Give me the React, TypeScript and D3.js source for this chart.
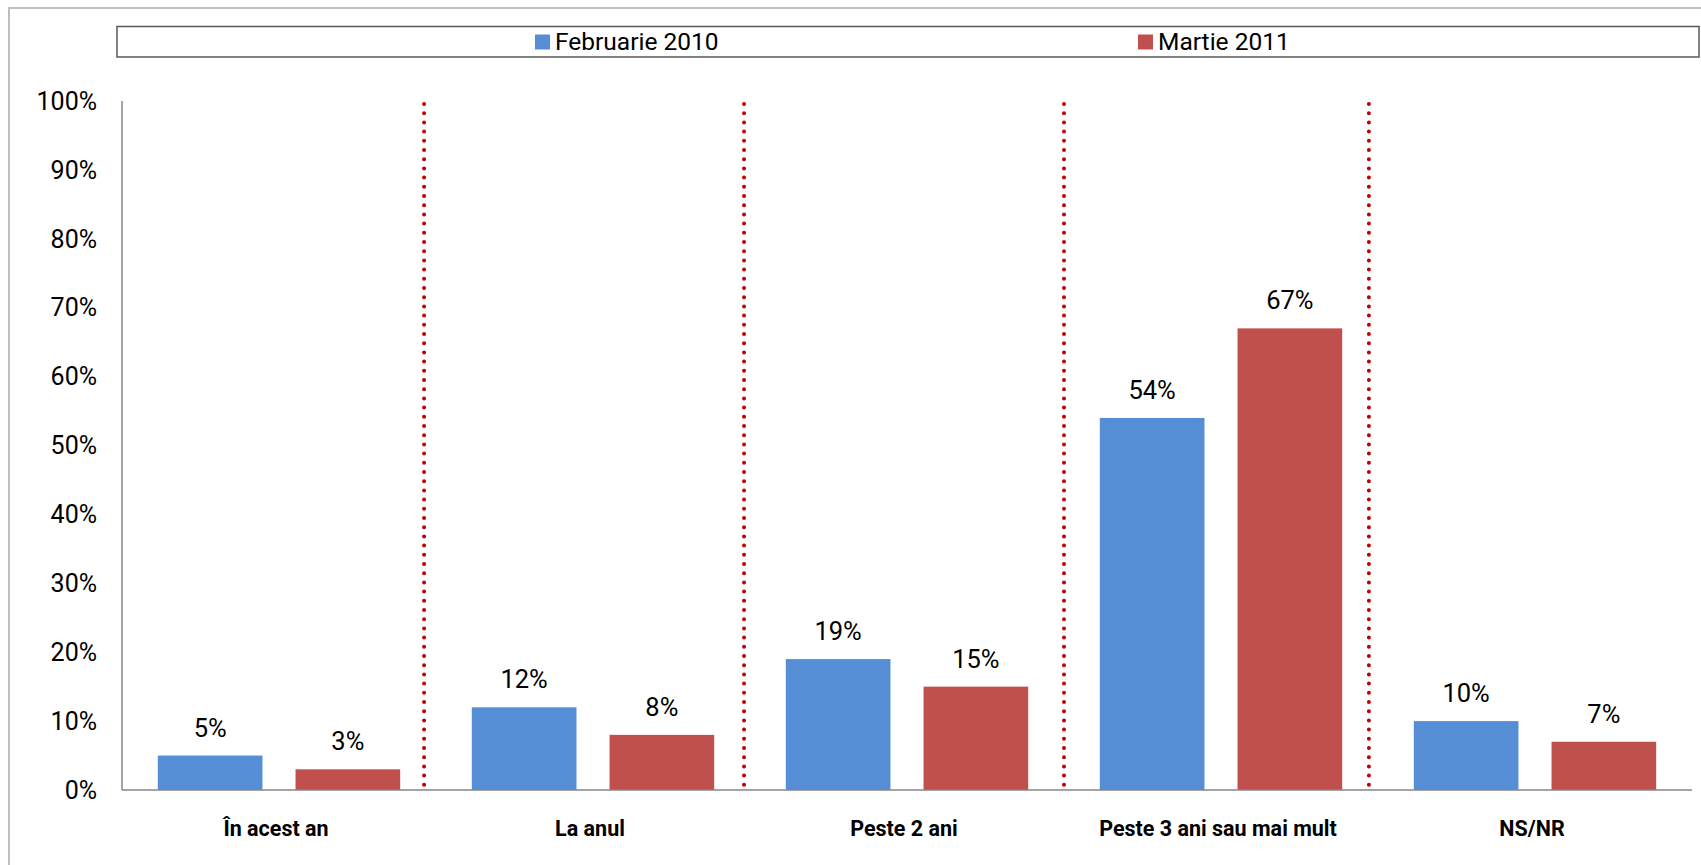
import React, { useRef, useEffect } from "react";
import * as d3 from "d3";

const categories = ["În acest an", "La anul", "Peste 2 ani", "Peste 3 ani sau mai mult", "NS/NR"];
const seriesNames = ["Februarie 2010", "Martie 2011"];
const feb2010 = [5, 12, 19, 54, 10];
const mar2011 = [3, 8, 15, 67, 7];
const yTicks = [0, 10, 20, 30, 40, 50, 60, 70, 80, 90, 100];
// red dotted separators, in category units
const dividers = [0.962, 1.981, 3.0, 3.971];

const colors = ["#558ED5", "#C0504D"];

const App = () => {
  const svgRef = useRef<SVGSVGElement>(null);

  const W = 1701,
    H = 865;
  const plot = { left: 122, right: 1692, top: 101, bottom: 790 };

  useEffect(() => {
    const svg = d3.select(svgRef.current);
    svg.selectAll("*").remove();

    const font = "Roboto, 'Open Sans', sans-serif";

    // outer chart frame (runs off the page on the right/bottom)
    svg
      .append("rect")
      .attr("x", 9)
      .attr("y", 8)
      .attr("width", W + 20)
      .attr("height", H + 20)
      .attr("fill", "#fff")
      .attr("stroke", "#BFBFBF")
      .attr("stroke-width", 2);

    // legend
    svg
      .append("rect")
      .attr("x", 117)
      .attr("y", 26.5)
      .attr("width", 1582)
      .attr("height", 30.5)
      .attr("fill", "#fff")
      .attr("stroke", "#595959")
      .attr("stroke-width", 1.5);

    const legendX = d3.scalePoint().domain(seriesNames).range([535, 1138]);
    const legend = svg
      .selectAll("g.legend")
      .data(seriesNames)
      .enter()
      .append("g")
      .attr("transform", (d) => `translate(${legendX(d)},0)`);
    legend
      .append("rect")
      .attr("x", 0)
      .attr("y", 34.5)
      .attr("width", 15)
      .attr("height", 15)
      .attr("fill", (d, i) => colors[i]);
    legend
      .append("text")
      .attr("x", 20)
      .attr("y", 50)
      .attr("font-family", font)
      .attr("font-size", 24.5)
      .attr("fill", "#000")
      .text((d) => d);

    // scales
    const x0 = d3.scaleBand().domain(categories).range([plot.left, plot.right]);
    const x1 = d3
      .scaleBand()
      .domain(seriesNames)
      .range([0, x0.bandwidth()])
      .paddingInner(0.24)
      .paddingOuter(0.26);
    const y = d3.scaleLinear().domain([0, 100]).range([plot.bottom, plot.top]);
    const xDiv = d3.scaleLinear().domain([0, categories.length]).range([plot.left, plot.right]);

    // y tick labels
    svg
      .append("g")
      .selectAll("text")
      .data(yTicks)
      .enter()
      .append("text")
      .attr("x", 97)
      .attr("y", (d) => y(d))
      .attr("dy", "0.35em")
      .attr("text-anchor", "end")
      .attr("font-family", font)
      .attr("font-size", 25)
      .attr("fill", "#000")
      .text((d) => d + "%");

    // bars
    const table = categories.map((c, i) => ({ cat: c, values: [feb2010[i], mar2011[i]] }));
    const groups = svg
      .append("g")
      .selectAll("g")
      .data(table)
      .enter()
      .append("g")
      .attr("transform", (d) => `translate(${x0(d.cat)},0)`);

    groups
      .selectAll("rect")
      .data((d) => d.values.map((v, i) => ({ s: seriesNames[i], v, i })))
      .enter()
      .append("rect")
      .attr("x", (d) => x1(d.s))
      .attr("y", (d) => y(d.v))
      .attr("width", x1.bandwidth())
      .attr("height", (d) => y(0) - y(d.v))
      .attr("fill", (d) => colors[d.i]);

    groups
      .selectAll("text")
      .data((d) => d.values.map((v, i) => ({ s: seriesNames[i], v, i })))
      .enter()
      .append("text")
      .attr("x", (d) => x1(d.s) + x1.bandwidth() / 2)
      .attr("y", (d) => y(d.v) - 19)
      .attr("text-anchor", "middle")
      .attr("font-family", font)
      .attr("font-size", 25.5)
      .attr("fill", "#000")
      .text((d) => d.v + "%");

    // axes lines
    svg
      .append("line")
      .attr("x1", plot.left)
      .attr("x2", plot.left)
      .attr("y1", plot.top)
      .attr("y2", plot.bottom)
      .attr("stroke", "#868686")
      .attr("stroke-width", 1.5);
    svg
      .append("line")
      .attr("x1", plot.left)
      .attr("x2", plot.right)
      .attr("y1", plot.bottom)
      .attr("y2", plot.bottom)
      .attr("stroke", "#868686")
      .attr("stroke-width", 1.5);

    // dotted separators
    svg
      .append("g")
      .selectAll("line")
      .data(dividers)
      .enter()
      .append("line")
      .attr("x1", (d) => xDiv(d))
      .attr("x2", (d) => xDiv(d))
      .attr("y1", plot.top + 3)
      .attr("y2", plot.bottom - 2)
      .attr("stroke", "#C00000")
      .attr("stroke-width", 4)
      .attr("stroke-linecap", "round")
      .attr("stroke-dasharray", "0 9.2");

    // category labels
    svg
      .append("g")
      .selectAll("text")
      .data(categories)
      .enter()
      .append("text")
      .attr("x", (d) => x0(d) + x0.bandwidth() / 2 - 3)
      .attr("y", 836)
      .attr("text-anchor", "middle")
      .attr("font-family", font)
      .attr("font-weight", "bold")
      .attr("font-size", 21.5)
      .attr("fill", "#000")
      .text((d) => d);
  }, []);

  return (
    <svg
      ref={svgRef}
      width={W}
      height={H}
      style={{ position: "absolute", left: 0, top: 0, background: "#fff" }}
    ></svg>
  );
};

export default App;
